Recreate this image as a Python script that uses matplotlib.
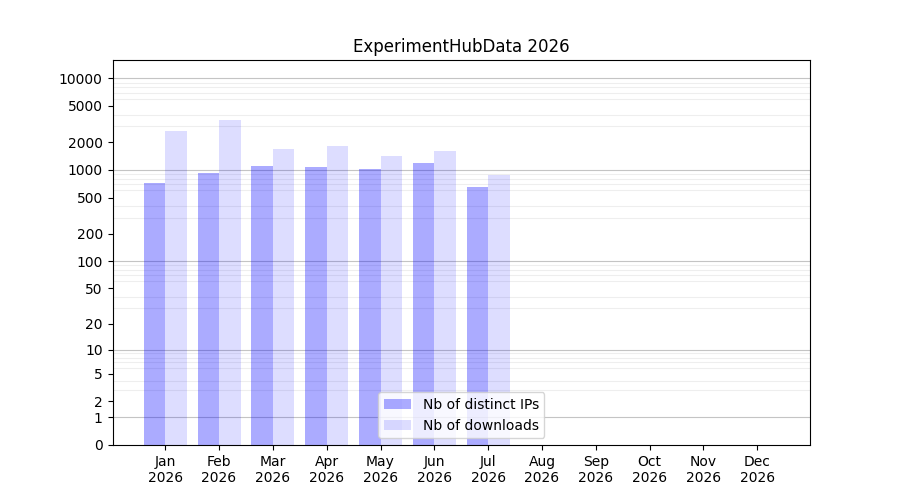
import numpy as np
import matplotlib
matplotlib.use('Agg')
import matplotlib.pyplot as plt
from matplotlib.ticker import FixedLocator, NullFormatter

months = ['Jan', 'Feb', 'Mar', 'Apr', 'May', 'Jun', 'Jul', 'Aug', 'Sep', 'Oct', 'Nov', 'Dec']
year = '2026'
nb_ips = [718, 925, 1100, 1075, 1020, 1190, 650]
nb_downloads = [2655, 3500, 1690, 1820, 1420, 1607, 880]
ytick_values = [0, 1, 2, 5, 10, 20, 50, 100, 200, 500, 1000, 2000, 5000, 10000]


def forward(y):
    return np.log10(1 + np.maximum(y, 0))


def inverse(y):
    return 10 ** y - 1


fig, ax = plt.subplots(figsize=(9, 5), dpi=100)
ax.set_yscale('function', functions=(forward, inverse))

x = np.arange(1, len(months) + 1)
xi = x[:len(nb_ips)]
ax.bar(xi, nb_ips, width=-0.4, align='edge', color='blue', alpha=0.33,
       label='Nb of distinct IPs', zorder=2)
ax.bar(xi, nb_downloads, width=0.4, align='edge', color='blue', alpha=0.133,
       label='Nb of downloads', zorder=2)

ax.set_ylim(0, 10 ** 4.2 - 1)
ax.set_xlim(0.02, 12.98)
ax.yaxis.set_major_locator(FixedLocator(ytick_values))
ax.set_yticklabels([str(v) for v in ytick_values])

minors = [m * 10 ** d for d in range(0, 5) for m in range(2, 10)]
minors = [v for v in minors if v < 10 ** 4.2]
ax.yaxis.set_minor_locator(FixedLocator(minors))
ax.yaxis.set_minor_formatter(NullFormatter())
ax.tick_params(axis='y', which='minor', length=0)
ax.grid(axis='y', which='minor', color='#eeeeee', linewidth=0.8, zorder=1)
for d in [1, 10, 100, 1000, 10000]:
    ax.axhline(d, color='#c4c4c4', linewidth=0.8, zorder=1)

ax.set_xticks(x)
ax.set_xticklabels([m + '\n' + year for m in months])
ax.set_title('ExperimentHubData 2026')
ax.legend(loc='lower center')

fig.savefig('out.png')
